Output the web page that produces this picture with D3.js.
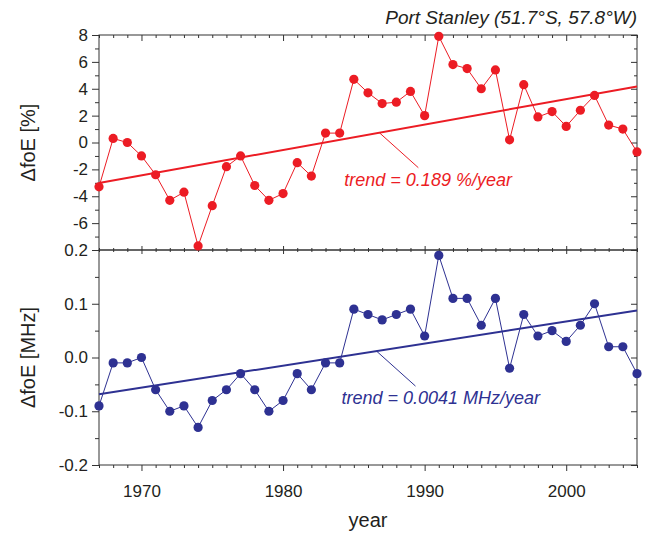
<!DOCTYPE html>
<html>
<head>
<meta charset="utf-8">
<script src="https://cdn.jsdelivr.net/npm/d3@7"></script>
<style>
  body { margin: 0; background: #fff; }
  svg { display: block; font-family: "Liberation Sans", Arial, sans-serif; }
</style>
</head>
<body>
<svg id="chart" width="654" height="534"></svg>
<script>
// Annual E-layer critical frequency deviations, Port Stanley
const years = [1967, 1968, 1969, 1970, 1971, 1972, 1973, 1974, 1975, 1976,
               1977, 1978, 1979, 1980, 1981, 1982, 1983, 1984, 1985, 1986,
               1987, 1988, 1989, 1990, 1991, 1992, 1993, 1994, 1995, 1996,
               1997, 1998, 1999, 2000, 2001, 2002, 2003, 2004, 2005];
const percentValues = [-3.3, 0.3, 0.0, -1.0, -2.4, -4.3, -3.7, -7.7, -4.7, -1.8,
                       -1.0, -3.2, -4.3, -3.8, -1.5, -2.5, 0.7, 0.7, 4.7, 3.7,
                       2.9, 3.0, 3.8, 2.0, 7.9, 5.8, 5.5, 4.0, 5.4, 0.2,
                       4.3, 1.9, 2.3, 1.2, 2.4, 3.5, 1.3, 1.0, -0.7];
const mhzValues = [-0.09, -0.01, -0.01, 0.00, -0.06, -0.10, -0.09, -0.13, -0.08, -0.06,
                   -0.03, -0.06, -0.10, -0.08, -0.03, -0.06, -0.01, -0.01, 0.09, 0.08,
                   0.07, 0.08, 0.09, 0.04, 0.19, 0.11, 0.11, 0.06, 0.11, -0.02,
                   0.08, 0.04, 0.05, 0.03, 0.06, 0.10, 0.02, 0.02, -0.03];
const percentTrend = 0.189;   // %/year
const mhzTrend = 0.0041;      // MHz/year
const yearTicks = [1970, 1980, 1990, 2000];
const percentTicks = [-6, -4, -2, 0, 2, 4, 6, 8];
const mhzTicks = [-0.2, -0.1, 0.0, 0.1, 0.2];

const RED = "#ec1c24", BLUE = "#2e3192", INK = "#231f20", AXIS = "#333";

const svg = d3.select("#chart");
const left = 99, right = 637, top1 = 35, mid = 250, bot = 465;

const x = d3.scaleLinear().domain([1967, 2005]).range([left, right]);
const yTop = d3.scaleLinear().domain([-8, 8]).range([mid, top1]);
const yBot = d3.scaleLinear().domain([-0.2, 0.2]).range([bot, mid]);

const fmt = f => v => f(v).replace("\u2212", "-");

function styleAxis(g, labels) {
  g.select(".domain").remove();
  g.selectAll(".tick line").attr("stroke", AXIS).attr("stroke-width", 1);
  g.selectAll(".tick text")
    .attr("fill", INK)
    .style("font-size", "17px")
    .style("display", labels ? null : "none");
}

function addAxis(axis, tx, ty, labels) {
  svg.append("g").attr("transform", `translate(${tx},${ty})`)
    .call(axis).call(g => styleAxis(g, labels));
}

// year ticks: every year minor, every decade major
const minorYears = years.filter(v => !yearTicks.includes(v));
// top edge (inward)
addAxis(d3.axisBottom(x).tickValues(minorYears).tickSize(3).tickSizeOuter(0), 0, top1, false);
addAxis(d3.axisBottom(x).tickValues(yearTicks).tickSize(6).tickSizeOuter(0), 0, top1, false);
// shared edge (ticks crossing the line)
addAxis(d3.axisBottom(x).tickValues(minorYears).tickSize(2).tickSizeOuter(0), 0, mid, false);
addAxis(d3.axisTop(x).tickValues(minorYears).tickSize(2).tickSizeOuter(0), 0, mid, false);
addAxis(d3.axisBottom(x).tickValues(yearTicks).tickSize(4).tickSizeOuter(0), 0, mid, false);
addAxis(d3.axisTop(x).tickValues(yearTicks).tickSize(4).tickSizeOuter(0), 0, mid, false);
// bottom edge (outward) with labels
addAxis(d3.axisBottom(x).tickValues(minorYears).tickSize(3).tickSizeOuter(0), 0, bot, false);
addAxis(d3.axisBottom(x).tickValues(yearTicks).tickSize(6).tickSizeOuter(0).tickPadding(14)
  .tickFormat(d3.format("d")), 0, bot, true);

// value axes
const pctMinor = d3.range(-7, 8, 2);
const pctMajor = [-8].concat(percentTicks);
const mhzMinor = [-0.15, -0.05, 0.05, 0.15];

addAxis(d3.axisLeft(yTop).tickValues(pctMinor).tickSize(4).tickSizeOuter(0), left, 0, false);
addAxis(d3.axisLeft(yTop).tickValues(percentTicks).tickSize(7).tickPadding(4).tickSizeOuter(0)
  .tickFormat(fmt(d3.format("d"))), left, 0, true);
addAxis(d3.axisLeft(yBot).tickValues(mhzMinor).tickSize(4).tickSizeOuter(0), left, 0, false);
addAxis(d3.axisLeft(yBot).tickValues(mhzTicks).tickSize(7).tickPadding(4).tickSizeOuter(0)
  .tickFormat(fmt(d3.format(".1f"))), left, 0, true);

addAxis(d3.axisRight(yTop).tickValues(pctMinor).tickSize(-3).tickSizeOuter(0), right, 0, false);
addAxis(d3.axisRight(yTop).tickValues(pctMajor).tickSize(-6).tickSizeOuter(0), right, 0, false);
addAxis(d3.axisRight(yBot).tickValues(mhzMinor).tickSize(-3).tickSizeOuter(0), right, 0, false);
addAxis(d3.axisRight(yBot).tickValues(mhzTicks).tickSize(-6).tickSizeOuter(0), right, 0, false);

// panel frames
[[top1, mid], [mid, bot]].forEach(([a, b]) => {
  svg.append("rect").attr("x", left).attr("y", a)
    .attr("width", right - left).attr("height", b - a)
    .attr("fill", "none").attr("stroke", AXIS).attr("stroke-width", 1);
});

function drawPanel(values, y, slope, color, label, anchorYear) {
  const pts = years.map((yr, i) => ({ yr, v: values[i] }));
  const mx = d3.mean(years), my = d3.mean(values);
  const trend = yr => my + slope * (yr - mx);
  const g = svg.append("g");

  // linear trend
  g.append("line")
    .attr("x1", x(1967)).attr("y1", y(trend(1967)))
    .attr("x2", x(2005)).attr("y2", y(trend(2005)))
    .attr("stroke", color).attr("stroke-width", 2);

  // annual series
  g.append("path").datum(pts)
    .attr("d", d3.line().x(d => x(d.yr)).y(d => y(d.v)))
    .attr("fill", "none").attr("stroke", color).attr("stroke-width", 1);
  g.selectAll("circle").data(pts).join("circle")
    .attr("cx", d => x(d.yr)).attr("cy", d => y(d.v)).attr("r", 4.6)
    .attr("fill", color);

  // trend annotation with leader
  const ax = x(anchorYear), ay = y(trend(anchorYear));
  g.append("line")
    .attr("x1", ax).attr("y1", ay).attr("x2", ax + 39).attr("y2", ay + 35)
    .attr("stroke", color).attr("stroke-width", 1);
  g.append("text")
    .attr("x", ax - 35).attr("y", ay + 53)
    .attr("fill", color).style("font-size", "18px").style("font-style", "italic")
    .text(label);
}

drawPanel(percentValues, yTop, percentTrend, RED, `trend = ${percentTrend} %/year`, 1986.8);
drawPanel(mhzValues, yBot, mhzTrend, BLUE, `trend = ${mhzTrend} MHz/year`, 1986.6);

// titles
svg.append("text").attr("x", right).attr("y", 24).attr("text-anchor", "end")
  .attr("fill", INK).style("font-size", "19px").style("font-style", "italic")
  .text("Port Stanley (51.7\u00b0S, 57.8\u00b0W)");

svg.append("text").attr("x", (left + right) / 2).attr("y", 527).attr("text-anchor", "middle")
  .attr("fill", INK).style("font-size", "20px").text("year");

[["\u0394foE [%]", (top1 + mid) / 2], ["\u0394foE [MHz]", (mid + bot) / 2]].forEach(([t, cy]) => {
  svg.append("text")
    .attr("transform", `translate(35,${cy}) rotate(-90)`)
    .attr("text-anchor", "middle")
    .attr("fill", INK).style("font-size", "20px").text(t);
});
</script>
</body>
</html>
